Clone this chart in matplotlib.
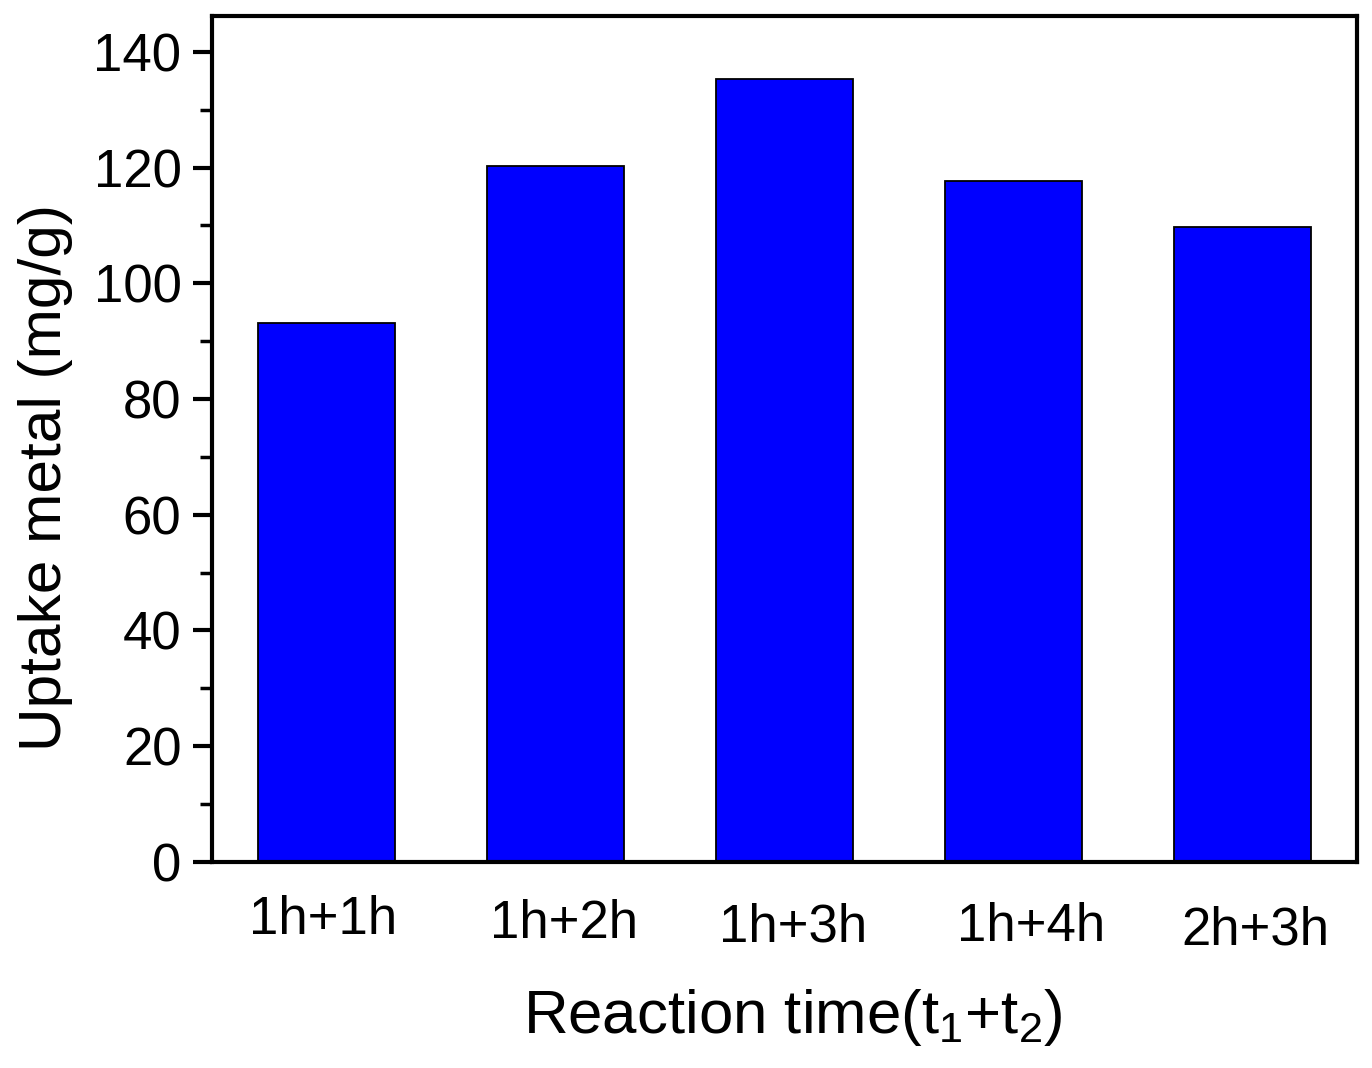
import numpy as np
import matplotlib
matplotlib.use('Agg')
import matplotlib.pyplot as plt
import matplotlib.transforms as mtransforms
from matplotlib.ticker import MultipleLocator

plt.rcParams['font.family'] = ['Liberation Sans', 'DejaVu Sans']
plt.rcParams['mathtext.fontset'] = 'custom'
plt.rcParams['mathtext.rm'] = 'Liberation Sans'
plt.rcParams['mathtext.it'] = 'Liberation Sans:italic'

# data
conditions = ['1h+1h', '1h+2h', '1h+3h', '1h+4h', '2h+3h']
uptake = [93.1, 120.2, 135.4, 117.6, 109.8]

# small nudges of the tick labels in pixels (the original is a bit uneven)
label_dx = [-3, 9, 9, 18, 13]
label_dy = [0, -4, -7, -7, -10]

fig = plt.figure(figsize=(13.72, 10.68), dpi=100)
ax = fig.add_axes([0.1545, 0.193, 0.8345, 0.792])

x = np.arange(len(conditions))
ax.bar(x, uptake, width=0.6, color='#0000ff', edgecolor='black', linewidth=1.3, zorder=2)

ax.set_xlim(-0.5, 4.5)
ax.set_ylim(0, 146.2)
ax.set_xticks(x)
ax.set_xticklabels(conditions)
ax.yaxis.set_major_locator(MultipleLocator(20))
ax.yaxis.set_minor_locator(MultipleLocator(10))

for side in ['left', 'right', 'top', 'bottom']:
    ax.spines[side].set_linewidth(3)

ax.tick_params(axis='y', which='major', direction='out', length=14, width=3,
               labelsize=38, pad=8)
ax.tick_params(axis='y', which='minor', direction='out', length=8.5, width=2.5)
ax.tick_params(axis='x', which='major', length=0, labelsize=38, pad=24)

for lab, dx, dy in zip(ax.get_xticklabels(), label_dx, label_dy):
    offset = mtransforms.ScaledTranslation(dx / 100, dy / 100, fig.dpi_scale_trans)
    lab.set_transform(lab.get_transform() + offset)

ax.set_ylabel('Uptake metal (mg/g)', fontsize=43.5)
ax.yaxis.set_label_coords(-0.121, 0.455)
ax.set_xlabel('Reaction time(t$_1$+t$_2$)', fontsize=44.5)
ax.xaxis.set_label_coords(0.507, -0.184)
ax.xaxis.label.set_va('center')

fig.savefig('out.png', dpi=100, facecolor='white')
